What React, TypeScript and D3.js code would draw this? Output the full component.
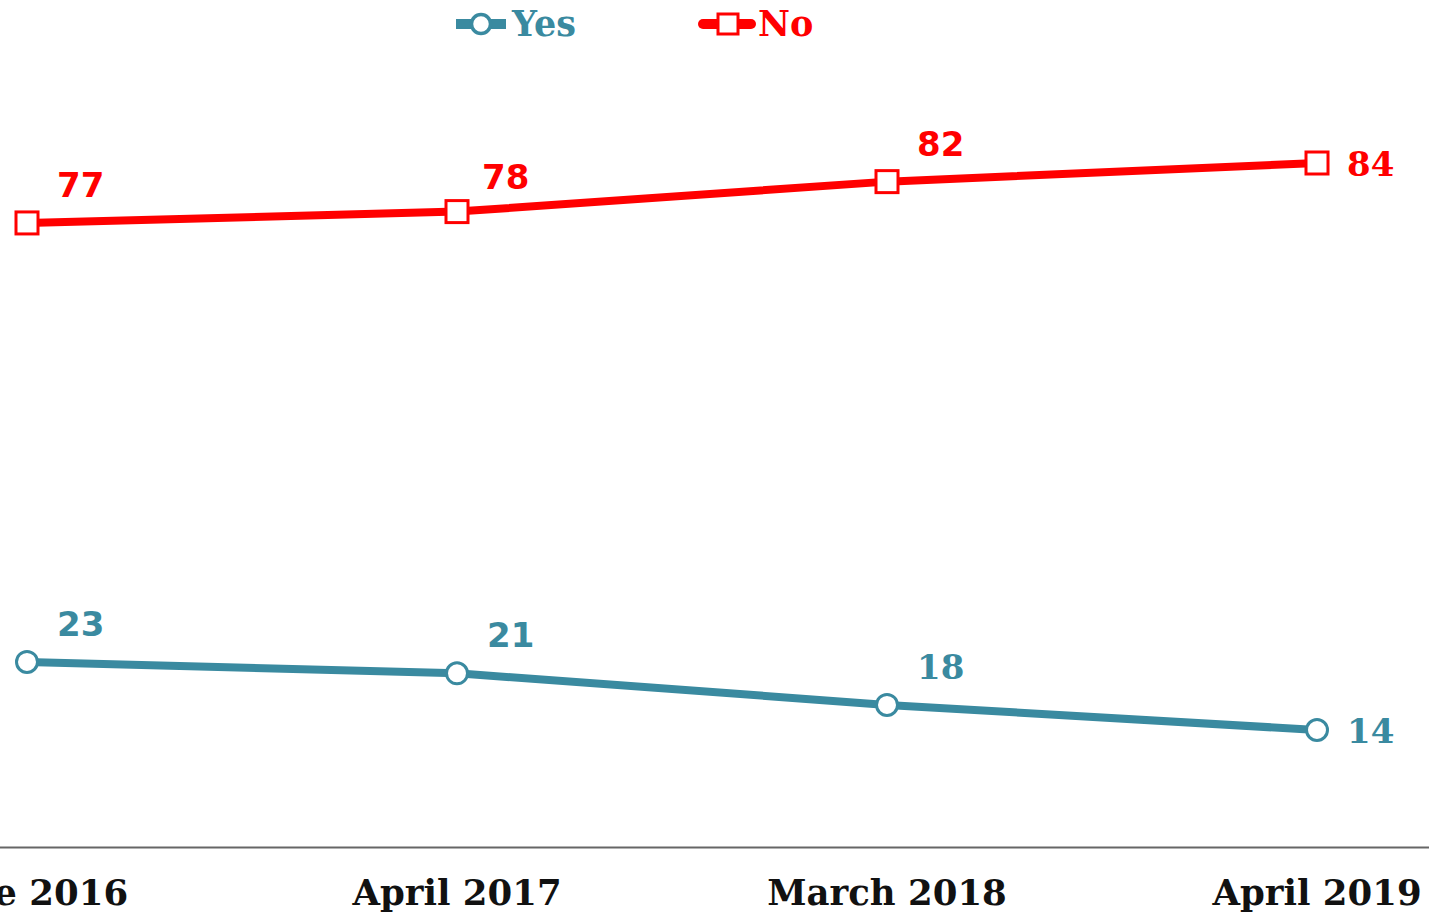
import React, { useRef, useEffect } from 'react';
import * as d3 from 'd3';

const categories = ['June 2016', 'April 2017', 'March 2018', 'April 2019'];
const yesValues = [22.4, 21, 17.1, 14];
const noValues = [76.6, 78, 81.7, 84];
const yesLabels = ['23', '21', '18', '14'];
const noLabels = ['77', '78', '82', '84'];
const seriesNames = ['Yes', 'No'];

const App: React.FC = () => {
  const chartRef = useRef<SVGSVGElement | null>(null);

  useEffect(() => {
    if (!chartRef.current) return;

    d3.select(chartRef.current).selectAll('*').remove();

    const width = 1429;
    const height = 914;

    const svg = d3.select(chartRef.current)
      .attr('width', width)
      .attr('height', height);

    const x = d3.scalePoint<string>()
      .domain(categories)
      .range([27, 1317]);

    const y = d3.scaleLinear()
      .domain([0, 100])
      .range([843.4, 33.4]);

    const teal = '#3a8aa0';
    const red = '#ff0000';
    const serif = '"DejaVu Serif", serif';
    const sans = '"DejaVu Sans", sans-serif';

    // x axis line + labels (first label is clipped at the left edge, as in the original)
    svg.append('line')
      .attr('x1', 0)
      .attr('x2', width)
      .attr('y1', 847.5)
      .attr('y2', 847.5)
      .attr('stroke', '#666')
      .attr('stroke-width', 2);

    svg.append('g')
      .selectAll('text')
      .data(categories)
      .join('text')
      .attr('x', d => x(d) || 0)
      .attr('y', 905)
      .attr('text-anchor', 'middle')
      .attr('font-family', serif)
      .attr('font-weight', 'bold')
      .attr('font-size', 35.5)
      .attr('fill', '#111')
      .text(d => d);

    const line = d3.line<number>()
      .x((_, i) => x(categories[i]) || 0)
      .y(d => y(d));

    const series = [
      { name: seriesNames[0], values: yesValues, labels: yesLabels, color: teal, marker: 'circle' },
      { name: seriesNames[1], values: noValues, labels: noLabels, color: red, marker: 'square' },
    ];

    series.forEach(s => {
      svg.append('path')
        .datum(s.values)
        .attr('d', line)
        .attr('fill', 'none')
        .attr('stroke', s.color)
        .attr('stroke-width', 8)
        .attr('stroke-linejoin', 'round');

      const pts = svg.append('g')
        .selectAll('g')
        .data(s.values)
        .join('g')
        .attr('transform', (d, i) => `translate(${x(categories[i])},${y(d)})`);

      if (s.marker === 'circle') {
        pts.append('circle')
          .attr('r', 10.5)
          .attr('fill', '#fff')
          .attr('stroke', s.color)
          .attr('stroke-width', 3);
      } else {
        pts.append('rect')
          .attr('x', -11)
          .attr('y', -11)
          .attr('width', 22)
          .attr('height', 22)
          .attr('fill', '#fff')
          .attr('stroke', s.color)
          .attr('stroke-width', 3);
      }

      // value labels: last point sits to the right, others above-right
      const last = s.values.length - 1;
      pts.append('text')
        .attr('x', (d, i) => (s.marker === 'square' && i === 1) ? 25 : 30)
        .attr('y', (d, i) => i === last ? 13 : (s.marker === 'square' && i === 1) ? -23 : -26)
        .attr('text-anchor', 'start')
        .attr('font-family', (d, i) => (i === last || (s.marker === 'circle' && i === 2)) ? serif : sans)
        .attr('font-weight', 'bold')
        .attr('font-size', 34)
        .attr('fill', s.color)
        .text((d, i) => s.labels[i]);
    });

    // legend
    const legend = svg.append('g')
      .selectAll('g')
      .data(series)
      .join('g')
      .attr('transform', (d, i) => `translate(${i === 0 ? 481 : 728},24)`);

    legend.append('line')
      .attr('x1', -25)
      .attr('x2', (d, i) => i === 0 ? 25 : 23)
      .attr('stroke', d => d.color)
      .attr('stroke-width', 10)
      .attr('stroke-linecap', (d, i) => i === 0 ? 'butt' : 'round');

    legend.filter(d => d.marker === 'circle')
      .append('circle')
      .attr('r', 9.5)
      .attr('fill', '#fff')
      .attr('stroke', d => d.color)
      .attr('stroke-width', 3.5);

    legend.filter(d => d.marker === 'square')
      .append('rect')
      .attr('x', -10)
      .attr('y', -10)
      .attr('width', 20)
      .attr('height', 20)
      .attr('fill', '#fff')
      .attr('stroke', d => d.color)
      .attr('stroke-width', 3);

    legend.append('text')
      .attr('x', (d, i) => i === 0 ? 31 : 30)
      .attr('y', 12)
      .attr('font-family', serif)
      .attr('font-weight', 'bold')
      .attr('font-size', 35)
      .attr('fill', d => d.color)
      .text(d => d.name);
  }, []);

  return (
    <svg ref={chartRef} style={{ position: 'absolute', left: 0, top: 0, background: '#fff' }} />
  );
};

export default App;
